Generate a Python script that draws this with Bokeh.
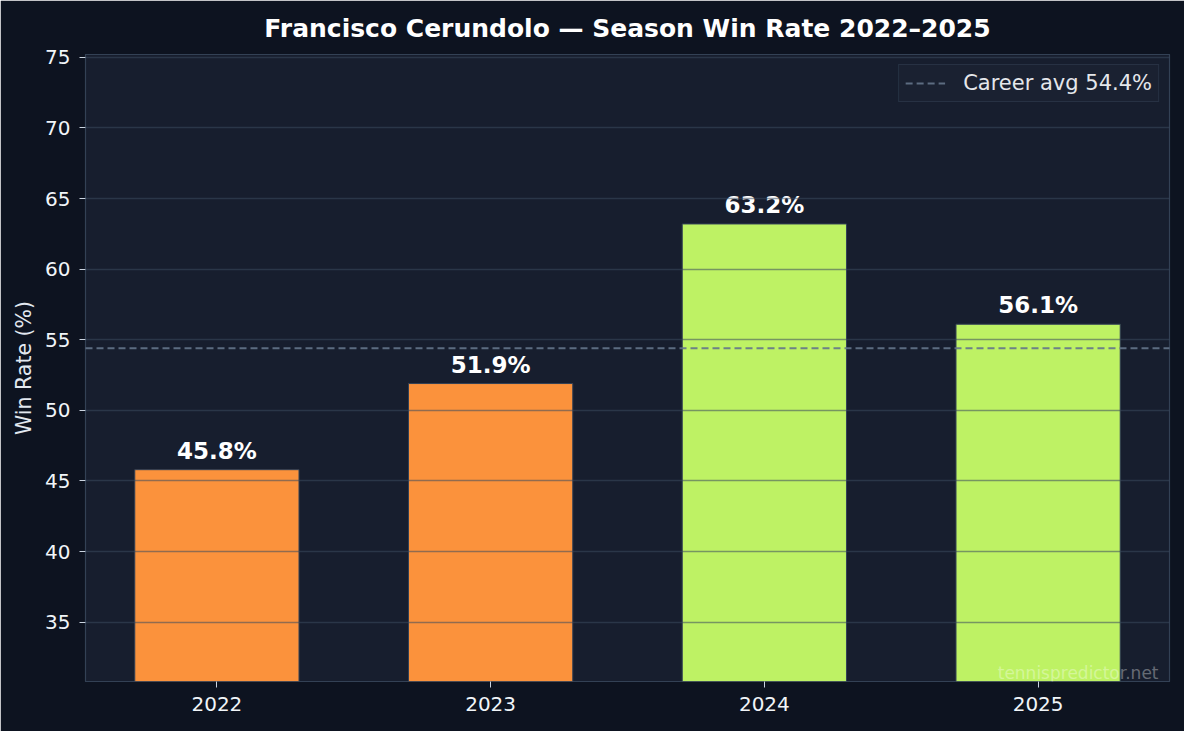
from bokeh.plotting import figure
from bokeh.models import (Range1d, Label, Legend, LegendItem, FixedTicker,
                          SingleIntervalTicker, ColumnDataSource)
from bokeh.core.properties import value
from bokeh.embed import file_html
from bokeh.resources import INLINE

# ---- data ----
years = ["2022", "2023", "2024", "2025"]
win_rates = [45.8, 51.9, 63.2, 56.1]
career_avg = 54.4
title_text = "Francisco Cerundolo \u2014 Season Win Rate 2022\u20132025"

ORANGE = "#fb923c"
LIME = "#bef264"
FONT = "DejaVu Sans"

x_idx = list(range(len(years)))
colors = [LIME if v > career_avg else ORANGE for v in win_rates]
labels = [f"{v:.1f}%" for v in win_rates]
src = ColumnDataSource(dict(x=x_idx, rate=win_rates, color=colors, label=labels))

y_start, y_end = min(win_rates) - 15, max(win_rates) + 12
x_start, x_end = -0.48, len(years) - 1 + 0.48

p = figure(width=1184, height=731, output_backend="svg", toolbar_location=None,
           x_range=Range1d(x_start, x_end), y_range=Range1d(y_start, y_end),
           min_border_left=85, min_border_right=15, min_border_top=54, min_border_bottom=50,
           background_fill_color="#171e2e", border_fill_color="#0d1320",
           outline_line_color="#334155", outline_line_width=1.2)

p.title.text = title_text
p.title.align = "center"
p.title.text_font = FONT
p.title.text_font_size = "25px"
p.title.text_font_style = "bold"
p.title.text_color = "#ffffff"
p.title.standoff = 23

p.vbar(x="x", top="rate", bottom=0, width=0.6, fill_color="color",
       line_color="#334155", line_width=1, source=src)

p.xgrid.grid_line_color = None
p.ygrid.grid_line_color = "#3b4a5f"
p.ygrid.grid_line_alpha = 0.55
p.ygrid.grid_line_width = 1.3
p.ygrid.level = "overlay"

p.xaxis.ticker = FixedTicker(ticks=x_idx)
p.xaxis.major_label_overrides = {i: y for i, y in zip(x_idx, years)}
p.yaxis.ticker = SingleIntervalTicker(interval=5)

for ax in (p.xaxis[0], p.yaxis[0]):
    ax.axis_line_color = None
    ax.major_tick_line_color = "#cbd5e1"
    ax.major_tick_out = 6
    ax.major_tick_in = 0
    ax.minor_tick_line_color = None
    ax.major_label_text_color = "#f1f5f9"
    ax.major_label_text_font = FONT
    ax.major_label_text_font_size = "20px"
    ax.major_label_standoff = 9

p.yaxis.axis_label = "Win Rate (%)"
p.yaxis.axis_label_text_font = FONT
p.yaxis.axis_label_text_font_style = "normal"
p.yaxis.axis_label_text_font_size = "20.5px"
p.yaxis.axis_label_text_color = "#e2e8f0"
p.yaxis.axis_label_standoff = 6

p.text(x="x", y="rate", text="label", source=src, text_align="center",
       text_baseline="alphabetic", y_offset=-19, text_font=value(FONT),
       text_font_style="bold", text_font_size="23px", text_color="#ffffff")

avg_r = p.line(x=[x_start, x_end], y=[career_avg, career_avg], line_color="#64748b",
               line_dash="7 4", line_width=1.8, line_alpha=0.9)
avg_r.level = "annotation"

legend = Legend(items=[LegendItem(label=f"Career avg {career_avg}%", renderers=[avg_r])],
                location="top_right", background_fill_color="#1a2131", background_fill_alpha=1,
                border_line_color="#334155", border_line_width=1.2,
                label_text_color="#e5e7eb", label_text_font=FONT, label_text_font_size="21px",
                glyph_width=40, glyph_height=20, label_height=20, label_standoff=18,
                padding=6, margin=10, spacing=0)
p.add_layout(legend)

wm = Label(x=x_end, y=y_start, x_offset=-11, y_offset=9, text="tennispredictor.net",
           text_align="right", text_baseline="alphabetic", text_font=FONT,
           text_font_size="17px", text_color="#ffffff", text_alpha=0.35)
p.add_layout(wm)

open("out.html", "w").write(file_html(p, INLINE))
